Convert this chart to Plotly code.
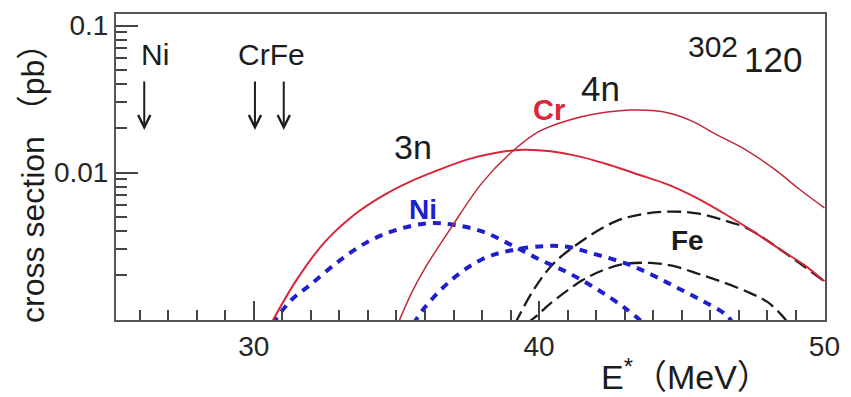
import numpy as np
import plotly.graph_objects as go

# Excitation energy E* (MeV) and log10 cross section (pb) for each channel
cr3n_E = [30.6, 31.5, 32.5, 33.5, 34.5, 35.5, 36.5, 37.5, 38.5, 39.4, 40.4, 41.5, 42.5, 43.5, 44.5, 45.5, 46.5, 47.5, 48.5, 49.3, 50.0]
cr3n_lg = [-3.03, -2.73, -2.47, -2.29, -2.16, -2.06, -1.98, -1.91, -1.865, -1.845, -1.855, -1.895, -1.95, -2.015, -2.08, -2.17, -2.28, -2.40, -2.53, -2.63, -2.74]

cr4n_E = [35.05, 35.5, 36.0, 36.9, 38.0, 39.1, 40.0, 41.0, 42.0, 43.2, 44.3, 45.3, 46.2, 47.2, 48.2, 49.1, 50.0]
cr4n_lg = [-3.03, -2.83, -2.65, -2.38, -2.07, -1.85, -1.72, -1.645, -1.60, -1.575, -1.585, -1.645, -1.74, -1.84, -1.97, -2.11, -2.24]

ni3n_E = [30.65, 31.3, 32.0, 33.0, 34.0, 35.0, 36.1, 37.0, 38.0, 39.0, 40.0, 41.0, 42.0, 43.0, 43.7]
ni3n_lg = [-3.03, -2.87, -2.76, -2.60, -2.47, -2.39, -2.345, -2.355, -2.40, -2.49, -2.59, -2.68, -2.79, -2.92, -3.03]

ni4n_E = [35.6, 35.9, 36.9, 38.0, 39.0, 40.2, 41.0, 41.8, 43.06, 44.0, 44.8, 45.7, 46.57, 46.8]
ni4n_lg = [-3.03, -2.94, -2.735, -2.59, -2.53, -2.50, -2.505, -2.546, -2.62, -2.70, -2.78, -2.87, -2.97, -3.03]

fe3n_E = [39.15, 39.8, 40.5, 41.5, 42.7, 43.7, 44.7, 45.6, 46.4, 47.3, 48.5, 50.0]
fe3n_lg = [-3.03, -2.80, -2.62, -2.465, -2.33, -2.28, -2.265, -2.28, -2.32, -2.38, -2.53, -2.74]

fe4n_E = [39.55, 40.0, 40.4, 41.5, 42.3, 43.06, 43.9, 44.7, 45.6, 46.5, 47.4, 48.0, 48.5, 48.75]
fe4n_lg = [-3.03, -2.96, -2.89, -2.735, -2.66, -2.62, -2.615, -2.635, -2.69, -2.75, -2.82, -2.88, -2.97, -3.03]

# Coulomb barrier markers
barrier_E = [26.16, 30.04, 31.05]

x_major = [30, 40, 50]
x_minor = [e for e in range(26, 50) if e not in x_major]
y_major = [0.01, 0.1]
y_major_text = ["0.01", "0.1"]
y_minor = [m * d for d in (0.001, 0.01) for m in range(2, 10)]

FONT = "Liberation Sans, Arial, Noto Sans CJK SC, sans-serif"
RED = "#d8263a"
RED_DARK = "#c0283a"
BLUE = "#1f1fcc"
INK = "#1c1c1c"

fig = go.Figure()

def curve(E, lg, color, width, dash):
    fig.add_trace(go.Scatter(
        x=E, y=10 ** np.array(lg), mode="lines",
        line=dict(color=color, width=width, dash=dash, shape="spline", smoothing=1.0),
        hoverinfo="skip", showlegend=False))

curve(fe3n_E, fe3n_lg, INK, 2.3, "14px,6px")
curve(fe4n_E, fe4n_lg, INK, 2.3, "14px,6px")
curve(ni3n_E, ni3n_lg, BLUE, 4, "8px,7px")
curve(ni4n_E, ni4n_lg, BLUE, 4, "8px,7px")
curve(cr3n_E, cr3n_lg, RED, 2, "solid")
curve(cr4n_E, cr4n_lg, RED_DARK, 1.5, "solid")

def label(x, y, text, size, color=INK, bold=False):
    t = f"<b>{text}</b>" if bold else text
    fig.add_annotation(x=x, y=y, text=t, showarrow=False,
                       font=dict(family=FONT, size=size, color=color),
                       xanchor="center", yanchor="middle")

label(35.57, -1.825, "3n", 34)
label(42.15, -1.427, "4n", 35)
label(40.33, -1.575, "Cr", 29, RED, True)
label(35.92, -2.25, "Ni", 28, BLUE, True)
label(45.2, -2.465, "Fe", 28, INK, True)
label(46.08, -1.144, "302", 30)
label(48.2, -1.231, "120", 35)
label(26.53, -1.198, "Ni", 30)
label(30.63, -1.198, "CrFe", 30)

for e in barrier_E:
    fig.add_annotation(x=e, y=-1.71, ax=0, ay=-50, axref="pixel", ayref="pixel",
                       text="", showarrow=True, arrowhead=5, arrowsize=1.2,
                       arrowwidth=2, arrowcolor=INK)

# axis titles
fig.add_annotation(xref="paper", yref="paper", x=0.804, y=-0.178,
                   text="E<sup>*</sup>（MeV）", showarrow=False,
                   font=dict(family=FONT, size=34, color=INK),
                   xanchor="center", yanchor="middle")
fig.add_annotation(xref="paper", yref="paper", x=-0.118, y=0.472,
                   text="cross section\u00a0（pb）", showarrow=False, textangle=-90,
                   font=dict(family=FONT, size=32, color=INK),
                   xanchor="center", yanchor="middle")

axis_common = dict(showline=True, linewidth=2, linecolor="#555555", mirror=True,
                   showgrid=False, zeroline=False, ticks="inside", tickwidth=2,
                   tickcolor="#444444",
                   tickfont=dict(family=FONT, size=28, color="#262626"))

fig.update_xaxes(range=[25.17, 50.02], tickmode="array", tickvals=x_major,
                 ticklen=19,
                 minor=dict(tickmode="array", tickvals=x_minor, ticks="inside",
                            ticklen=10, tickwidth=1.5, tickcolor="#444444"),
                 **axis_common)
fig.update_yaxes(type="log", range=[-3.003, -0.921], tickmode="array",
                 tickvals=y_major, ticktext=y_major_text, ticklen=22,
                 minor=dict(tickmode="array", tickvals=y_minor, ticks="inside",
                            ticklen=11, tickwidth=1.5, tickcolor="#444444"),
                 **axis_common)

fig.update_layout(width=851, height=397, margin=dict(l=116, r=26, t=11, b=77),
                  paper_bgcolor="white", plot_bgcolor="white", showlegend=False)

fig.write_html("out.html")
